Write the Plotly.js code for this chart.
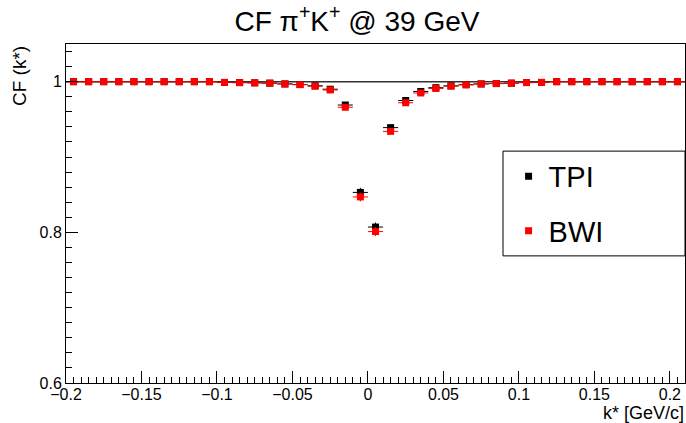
<!DOCTYPE html>
<html>
<head>
<meta charset="utf-8">
<script src="https://cdn.plot.ly/plotly-3.0.1.min.js"></script>
<style>html,body{margin:0;padding:0;background:#fff;}#chart{width:686px;height:423px;}</style>
</head>
<body>
<div id="chart"></div>
<script>
// k* bin centres [GeV/c]
const kStar = [-0.195,-0.185,-0.175,-0.165,-0.155,-0.145,-0.135,-0.125,-0.115,-0.105,
  -0.095,-0.085,-0.075,-0.065,-0.055,-0.045,-0.035,-0.025,-0.015,-0.005,
  0.005,0.015,0.025,0.035,0.045,0.055,0.065,0.075,0.085,0.095,
  0.105,0.115,0.125,0.135,0.145,0.155,0.165,0.175,0.185,0.195,0.205];
const binHalfWidth = 0.005;

const cfTPI = [1.000,1.000,1.000,1.000,1.000,1.000,1.000,1.000,1.000,1.000,
  0.999,0.9988,0.9985,0.998,0.997,0.9962,0.9945,0.990,0.969,0.853,
  0.807,0.939,0.975,0.987,0.992,0.9945,0.996,0.997,0.9975,0.998,
  0.9988,0.999,1.000,1.000,1.000,1.000,1.000,1.000,1.000,1.000,1.000];
const errTPI = [0.001,0.001,0.001,0.001,0.001,0.001,0.001,0.001,0.001,0.001,
  0.001,0.001,0.001,0.001,0.0015,0.0015,0.002,0.002,0.003,0.006,
  0.006,0.003,0.002,0.002,0.0015,0.0015,0.001,0.001,0.001,0.001,
  0.001,0.001,0.001,0.001,0.001,0.001,0.001,0.001,0.001,0.001,0.001];

const cfBWI = [1.000,1.000,1.000,1.000,1.000,1.000,1.000,1.000,1.000,1.000,
  0.999,0.9987,0.9984,0.998,0.997,0.996,0.994,0.989,0.966,0.847,
  0.801,0.934,0.972,0.985,0.991,0.994,0.9958,0.997,0.9975,0.998,
  0.9988,0.999,1.000,1.000,1.000,1.000,1.000,1.000,1.000,1.000,1.000];
const errBWI = [0.001,0.001,0.001,0.001,0.001,0.001,0.001,0.001,0.001,0.001,
  0.001,0.001,0.001,0.001,0.0015,0.0015,0.002,0.002,0.003,0.006,
  0.006,0.003,0.002,0.002,0.0015,0.0015,0.001,0.001,0.001,0.001,
  0.001,0.001,0.001,0.001,0.001,0.001,0.001,0.001,0.001,0.001,0.001];

const xTickVals = [-0.2,-0.15,-0.1,-0.05,0,0.05,0.1,0.15,0.2];
const xTickText = ['\u22120.2','\u22120.15','\u22120.1','\u22120.05','0','0.05','0.1','0.15','0.2'];
const yTickVals = [0.6,0.8,1.0];
const yTickText = ['0.6','0.8','1'];
const seriesNames = ['TPI','BWI'];
const refLevel = 1.0;

const FONT = 'Liberation Sans, Arial, Helvetica, sans-serif';

function trace(name, y, err, color, group) {
  return {
    type: 'scatter', mode: 'markers', name: name, x: kStar, y: y,
    legendgroup: group,
    marker: {symbol: 'square', size: 7, color: color},
    error_y: {type: 'data', array: err, visible: true, color: color, thickness: 1, width: 0},
    error_x: {type: 'constant', value: binHalfWidth, visible: true, color: color, thickness: 1, width: 0},
    cliponaxis: true
  };
}

const data = [
  trace(seriesNames[0], cfTPI, errTPI, '#000000', 'a'),
  trace(seriesNames[1], cfBWI, errBWI, '#ff0000', 'b')
];

const layout = {
  width: 686, height: 423,
  margin: {l: 66, r: 1, t: 44, b: 40, pad: 0},
  paper_bgcolor: '#ffffff', plot_bgcolor: '#ffffff',
  font: {family: FONT, color: '#000000', size: 16},
  title: {text: 'CF \u03c0<sup>+</sup>K<sup>+</sup> @ 39 GeV', font: {family: FONT, size: 28, color: '#000'},
          x: 0.47, xref: 'paper', xanchor: 'center', y: 0.95, yref: 'container', yanchor: 'middle'},
  showlegend: true,
  legend: {x: 0.715, xanchor: 'left', y: 0.685, yanchor: 'top', bgcolor: 'rgba(0,0,0,0)', borderwidth: 0,
           font: {family: FONT, size: 29, color: '#000'}, tracegroupgap: 14, traceorder: 'grouped',
           itemclick: false, itemdoubleclick: false},
  xaxis: {
    range: [-0.2, 0.21], tickmode: 'array', tickvals: xTickVals, ticktext: xTickText,
    ticks: 'inside', ticklen: 12, tickwidth: 1, tickcolor: '#000', ticklabelstandoff: -3,
    minor: {tickmode: 'linear', tick0: -0.2, dtick: 0.005, ticks: 'inside', ticklen: 6, tickwidth: 1, tickcolor: '#000', showgrid: false},
    showline: true, linecolor: '#000', linewidth: 1, mirror: true,
    showgrid: false, zeroline: false, tickfont: {family: FONT, size: 16}
  },
  yaxis: {
    range: [0.6, 1.05], tickmode: 'array', tickvals: yTickVals, ticktext: yTickText,
    ticks: 'inside', ticklen: 12, tickwidth: 1, tickcolor: '#000',
    minor: {tickmode: 'linear', tick0: 0.6, dtick: 0.02, ticks: 'inside', ticklen: 6, tickwidth: 1, tickcolor: '#000', showgrid: false},
    showline: true, linecolor: '#000', linewidth: 1, mirror: true,
    showgrid: false, zeroline: false, tickfont: {family: FONT, size: 16}
  },
  shapes: [
    {type: 'line', xref: 'x', yref: 'y', x0: -0.2, x1: 0.21, y0: refLevel, y1: refLevel,
     line: {color: '#333333', width: 1.5}, layer: 'below'},
    {type: 'rect', xref: 'paper', yref: 'paper', x0: 0.706, x1: 1.0, y0: 0.375, y1: 0.684,
     line: {color: '#000', width: 1}, fillcolor: '#ffffff', layer: 'above'}
  ],
  annotations: [
    {text: 'CF (k*)', xref: 'paper', yref: 'paper', x: 0, y: 1, xshift: -47, yshift: 0,
     xanchor: 'center', yanchor: 'top', textangle: -90, showarrow: false,
     font: {family: FONT, size: 19, color: '#000'}},
    {text: 'k* [GeV/c]', xref: 'paper', yref: 'paper', x: 1, y: 0, xshift: 1, yshift: -30,
     xanchor: 'right', yanchor: 'middle', showarrow: false,
     font: {family: FONT, size: 18, color: '#000'}}
  ]
};

Plotly.newPlot('chart', data, layout, {displayModeBar: false, staticPlot: true});
</script>
</body>
</html>
